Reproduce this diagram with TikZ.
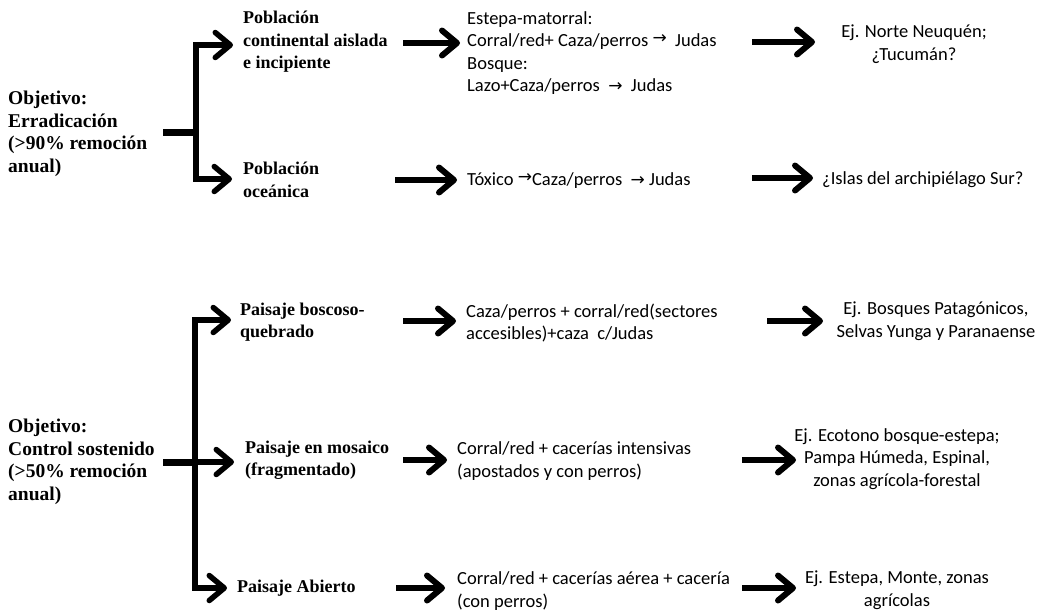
\documentclass[tikz,border=0pt]{standalone}
\usepackage{fontspec}
\setmainfont{Liberation Serif}
\newfontfamily\calib{Carlito}
\newfontfamily\symf{DejaVu Sans}
\usetikzlibrary{arrows.meta}
\newcommand{\tarr}{{\symf\fontsize{17}{17}\selectfont →}}
\begin{document}
\begin{tikzpicture}[x=1pt,y=-1pt,
  big/.style={font=\bfseries\fontsize{19.5}{22.5}\selectfont, align=left, inner sep=0pt, anchor=west},
  mid/.style={font=\bfseries\fontsize{18}{22.5}\selectfont, align=left, inner sep=0pt, anchor=west},
  sans/.style={font=\calib\fontsize{18.5}{22.5}\selectfont, align=left, inner sep=0pt, anchor=west},
  sansc/.style={font=\calib\fontsize{18.5}{22.5}\selectfont, align=center, inner sep=0pt},
  flow/.style={line width=6pt, -{Straight Barb[length=15pt,width=25pt,round]}},
  brk/.style={line width=5.5pt},
  brkarrow/.style={line width=5.5pt, -{Straight Barb[length=15pt,width=25pt,round]}},
  stub/.style={line width=7pt}]
\fill[white] (0,0) rectangle (1043,611);
\useasboundingbox (0,0) rectangle (1043,611);

% ---------- top section ----------
\node[big] (obj1) at (8,134) {Objetivo:\\Erradicación\\(>90\% remoción\\anual)};
\node[mid] (pob1) at (243,42) {Población\\continental aislada\\e incipiente};
\node[mid] (pob2) at (243,180) {Población\\oceánica};
\node[sans] (est) at (467,53) {Estepa-matorral:\\Corral/red+ Caza/perros \raisebox{3pt}{\tarr}\ \ Judas\\Bosque:\\Lazo+Caza/perros \ \tarr\ \ Judas};
\node[sansc] (ejn) at (914,44) {Ej. Norte Neuquén;\\¿Tucumán?};
\node[sans] (tox) at (467,181) {Tóxico \raisebox{3pt}{\tarr}Caza/perros \ \tarr\ Judas};
\node[sans] (isl) at (822,180) {¿Islas del archipiélago Sur?};

\coordinate (s1a) at (163,132);
\coordinate (s1b) at (196,132);
\coordinate (v1t) at (196,45);
\coordinate (v1b) at (196,179);
\coordinate (t1a) at (233,45);
\coordinate (t1b) at (232,179);
\draw[stub] (s1a) -- (s1b);
\draw[brk] (v1t) -- (v1b);
\draw[brkarrow] ([xshift=-2.75pt]v1t) -- (t1a);
\draw[brkarrow] ([xshift=-2.75pt]v1b) -- (t1b);

\coordinate (a1s) at (403,43);  \coordinate (a1e) at (460,43);
\coordinate (a2s) at (752,42);  \coordinate (a2e) at (815,42);
\coordinate (a3s) at (395,180); \coordinate (a3e) at (457,180);
\coordinate (a4s) at (752,178); \coordinate (a4e) at (813,178);
\draw[flow] (a1s) -- (a1e);
\draw[flow] (a2s) -- (a2e);
\draw[flow] (a3s) -- (a3e);
\draw[flow] (a4s) -- (a4e);

% ---------- bottom section ----------
\node[big] (obj2) at (8,462) {Objetivo:\\Control sostenido\\(>50\% remoción\\anual)};
\node[mid] (pb1) at (240,322) {Paisaje boscoso-\\quebrado};
\node[mid] (pm) at (245,460) {Paisaje en mosaico\\(fragmentado)};
\node[mid] (pa) at (237,588) {Paisaje Abierto};
\node[sans] (cz) at (466,323) {Caza/perros + corral/red(sectores\\accesibles)+caza \ c/Judas};
\node[sans] (cr) at (457,461) {Corral/red + cacerías intensivas\\(apostados y con perros)};
\node[sans] (ca) at (457,591) {Corral/red + cacerías aérea + cacería\\(con perros)};
\node[sansc] (ejb) at (936,321) {Ej. Bosques Patagónicos,\\Selvas Yunga y Paranaense};
\node[sansc] (eje) at (897,459) {Ej. Ecotono bosque-estepa;\\Pampa Húmeda, Espinal,\\zonas agrícola-forestal};
\node[sansc] (ejs) at (897,590) {Ej. Estepa, Monte, zonas\\agrícolas};

\coordinate (s2a) at (163,462);
\coordinate (s2b) at (195,462);
\coordinate (v2t) at (195,320);
\coordinate (v2b) at (195,588);
\coordinate (t2a) at (231,320);
\coordinate (t2m) at (234,462);
\coordinate (t2b) at (227,588);
\draw[stub] (s2a) -- (s2b);
\draw[brk] (v2t) -- (v2b);
\draw[brkarrow] ([xshift=-2.75pt]v2t) -- (t2a);
\draw[brkarrow] (s2b) -- (t2m);
\draw[brkarrow] ([xshift=-2.75pt]v2b) -- (t2b);

\coordinate (b1s) at (403,321); \coordinate (b1e) at (456,321);
\coordinate (b2s) at (767,321); \coordinate (b2e) at (823,321);
\coordinate (b3s) at (403,460); \coordinate (b3e) at (447,460);
\coordinate (b4s) at (742,460); \coordinate (b4e) at (796,460);
\coordinate (b5s) at (396,588); \coordinate (b5e) at (445,588);
\coordinate (b6s) at (742,588); \coordinate (b6e) at (796,588);
\draw[flow] (b1s) -- (b1e);
\draw[flow] (b2s) -- (b2e);
\draw[flow] (b3s) -- (b3e);
\draw[flow] (b4s) -- (b4e);
\draw[flow] (b5s) -- (b5e);
\draw[flow] (b6s) -- (b6e);
\end{tikzpicture}
\end{document}
